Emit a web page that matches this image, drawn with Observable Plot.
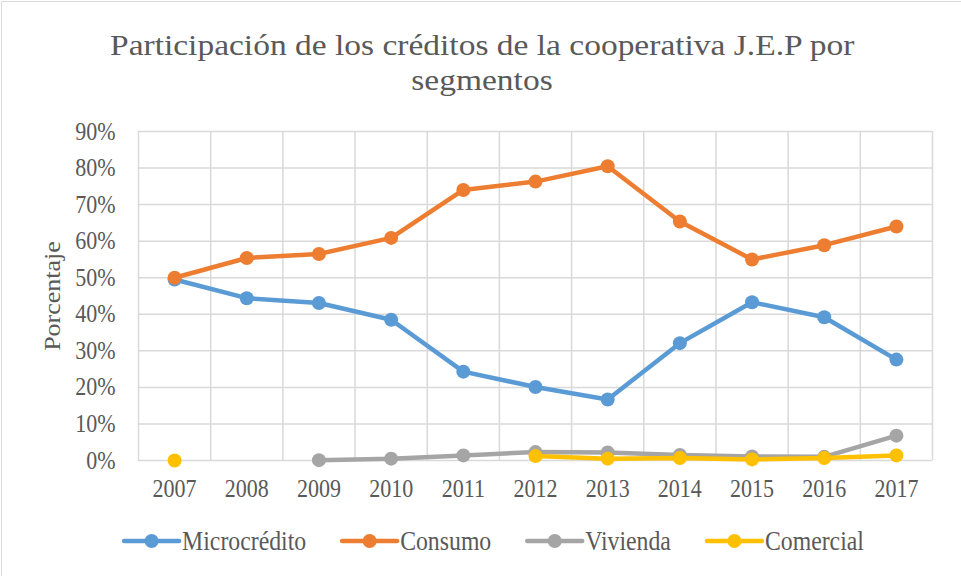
<!DOCTYPE html>
<html><head><meta charset="utf-8">
<script src="https://cdn.jsdelivr.net/npm/d3@7"></script>
<script src="https://cdn.jsdelivr.net/npm/@observablehq/plot@0.6"></script>
<style>
html,body{margin:0;padding:0;background:#fff;width:961px;height:576px;overflow:hidden;}
body{position:relative;font-family:"Liberation Serif","Times New Roman",serif;color:#595959;}
#frame{position:absolute;left:1px;top:1px;width:1200px;height:800px;border:1.5px solid #d9d9d9;box-sizing:border-box;}
#title{position:absolute;left:0;width:964px;top:26px;text-align:center;font-size:36px;line-height:35px;}
#title .ln{height:35px;}
#title .ln span{display:inline-block;line-height:1.1;transform:scale(0.93,0.84);transform-origin:center;}
#chart{position:absolute;left:0;top:110px;}
#ylabel{position:absolute;left:53px;top:296px;font-size:26px;white-space:nowrap;transform:translate(-50%,-50%) rotate(-90deg) scaleY(0.88);}
#legend{position:absolute;left:0;top:519px;}
</style>
</head><body>
<div id="frame"></div>
<div id="title"><div class="ln"><span>Participación de los créditos de la cooperativa J.E.P por</span></div><div class="ln"><span>segmentos</span></div></div>
<div id="ylabel">Porcentaje</div>
<div id="chart"></div>
<div id="legend"></div>
<script>
const years = [2007, 2008, 2009, 2010, 2011, 2012, 2013, 2014, 2015, 2016, 2017];
const microcredito = [49.5, 44.4, 43.1, 38.5, 24.3, 20.1, 16.7, 32.1, 43.3, 39.2, 27.6];
const consumo = [50.0, 55.4, 56.5, 60.9, 74.0, 76.3, 80.5, 65.4, 55.0, 58.9, 64.0];
const vivienda = [null, null, 0.1, 0.5, 1.4, 2.3, 2.2, 1.5, 1.1, 1.0, 6.8];
const comercial = [0.0, null, null, null, null, 1.2, 0.5, 0.7, 0.3, 0.7, 1.4];
const seriesNames = ["Microcrédito", "Consumo", "Vivienda", "Comercial"];
const seriesColors = ["#5B9BD5", "#ED7D31", "#A5A5A5", "#FFC000"];
const yTicks = [0, 10, 20, 30, 40, 50, 60, 70, 80, 90];

const seriesValues = [microcredito, consumo, vivienda, comercial];
const rows = seriesNames.flatMap((s, i) => years.map((yr, j) => ({series: s, year: yr, value: seriesValues[i][j] == null ? NaN : seriesValues[i][j]})));
const boundaries = [years[0] - 0.5, ...years.map(y => y + 0.5)];
const COMP = 0.88;

const chart = Plot.plot({
  width: 961, height: 400,
  marginLeft: 138, marginRight: 29, marginTop: 21, marginBottom: 50,
  style: {fontFamily: "'Liberation Serif', serif", fontSize: "25px", color: "#595959", background: "transparent", overflow: "visible"},
  x: {type: "linear", domain: [years[0] - 0.5, years[years.length - 1] + 0.5]},
  y: {domain: [0, 90]},
  color: {domain: seriesNames, range: seriesColors},
  marks: [
    Plot.ruleY(yTicks, {stroke: "#d9d9d9", strokeWidth: 1.5}),
    Plot.ruleX(boundaries, {stroke: "#d9d9d9", strokeWidth: 1.5}),
    Plot.axisX({ticks: years, tickFormat: d => String(d), tickSize: 0, tickPadding: 19, label: null}),
    Plot.axisY({ticks: yTicks, tickFormat: d => d + "%", tickSize: 0, tickPadding: 23, label: null}),
    ...seriesNames.flatMap(s => {
      const d = rows.filter(r => r.series === s);
      return [
        Plot.line(d, {x: "year", y: "value", stroke: "series", strokeWidth: 4.5, strokeLinecap: "round", strokeLinejoin: "round"}),
        Plot.dot(d, {x: "year", y: "value", fill: "series", r: 7})
      ];
    })
  ]
});
document.getElementById("chart").appendChild(chart);
chart.querySelectorAll("text").forEach(t => {
  const len = t.getComputedTextLength();
  if (len > 0) { t.setAttribute("textLength", len * COMP); t.setAttribute("lengthAdjust", "spacingAndGlyphs"); }
});

// legend
const lg = d3.select("#legend").append("svg").attr("width", 961).attr("height", 44)
  .style("font-family", "'Liberation Serif', serif").style("font-size", "27px");
const items = [];
seriesNames.forEach((name, i) => {
  const g = lg.append("g");
  g.append("line").attr("x1", 2).attr("x2", 57).attr("y1", 22).attr("y2", 22)
    .attr("stroke", seriesColors[i]).attr("stroke-width", 4.5).attr("stroke-linecap", "round");
  g.append("circle").attr("cx", 29.5).attr("cy", 22).attr("r", 7).attr("fill", seriesColors[i]);
  const t = g.append("text").attr("x", 60).attr("y", 22).attr("dy", "0.32em").attr("fill", "#595959").text(name);
  const len = t.node().getComputedTextLength() * COMP;
  t.attr("textLength", len).attr("lengthAdjust", "spacingAndGlyphs");
  items.push({g, w: 60 + len});
});
const gap = 34;
const total = items.reduce((a, b) => a + b.w, 0) + gap * (items.length - 1);
let x0 = 493 - total / 2;
items.forEach(it => { it.g.attr("transform", `translate(${x0},0)`); x0 += it.w + gap; });
</script>
</body></html>
